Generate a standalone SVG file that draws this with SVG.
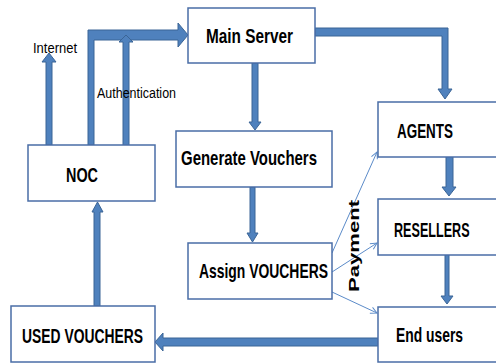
<svg xmlns="http://www.w3.org/2000/svg" width="496" height="363" viewBox="0 0 496 363">
<defs>
<style>
.box{fill:#fff;stroke:#4A6DA7;stroke-width:1.5}
.lbl{font-family:"Liberation Sans",Arial,sans-serif;font-weight:bold;font-size:21px;fill:#000}
.sm{font-family:"Liberation Sans",Arial,sans-serif;font-size:14px;fill:#000}
.blk{fill:#4F81BD;stroke:#3B6596;stroke-width:1;stroke-linejoin:miter}
.thin{fill:none;stroke:#5B8BC9;stroke-width:1;marker-end:url(#open)}
</style>
<marker id="open" viewBox="0 0 10 10" refX="9" refY="5" markerWidth="8" markerHeight="8" markerUnits="userSpaceOnUse" orient="auto">
<path d="M1,1 L9,5 L1,9" fill="none" stroke="#5B8BC9" stroke-width="1.2"/>
</marker>
</defs>
<rect width="496" height="363" fill="#fff"/>
<g id="connectors">
<polygon class="blk" points="46,145 46,62 42,62 49,53 56,62 52,62 52,145"/>
<polygon class="blk" points="88,145 88,30 178,30 178,23 188,35 178,47 178,40 94,40 94,145"/>
<polygon class="blk" points="123,147 123,42 119,42 126,35 133,42 129,42 129,147"/>
<polygon class="blk" points="315,28 448,28 448,89 452,89 445,99 438,89 442,89 442,36 315,36"/>
<polygon class="blk" points="252,63 252,122 249,122 255,130 261,122 258,122 258,63"/>
<polygon class="blk" points="250,187 250,233 247,233 252.5,242 258,233 255,233 255,187"/>
<polygon class="blk" points="446,153 446,187 442,187 449,196 456,187 453,187 453,153"/>
<polygon class="blk" points="445,250 445,296 441,296 447,304 453,296 449,296 449,250"/>
<polygon class="blk" points="378,338 163,338 163,333 155,342 163,351 163,346 378,346"/>
<polygon class="blk" points="94,306 94,212 92,212 97.5,202 103,212 100,212 100,306"/>
<line class="thin" x1="332" y1="253" x2="377" y2="152"/>
<line class="thin" x1="332" y1="272" x2="377" y2="243"/>
<line class="thin" x1="332" y1="292" x2="377" y2="313"/>
<text class="sm" x="33" y="53" textLength="44" lengthAdjust="spacingAndGlyphs">Internet</text>
<text class="sm" x="97" y="98" textLength="79" lengthAdjust="spacingAndGlyphs">Authentication</text>
<text class="lbl" style="font-size:15px" transform="translate(359,292) rotate(-90)" textLength="92" lengthAdjust="spacingAndGlyphs">Payment</text>
</g>
<g id="main-server">
<rect class="box" x="188" y="8" width="127" height="55"/>
<text class="lbl" x="206" y="43" textLength="87" lengthAdjust="spacingAndGlyphs">Main Server</text>
</g>
<g id="noc">
<rect class="box" x="28" y="145" width="127" height="56"/>
<text class="lbl" x="66" y="182" textLength="32" lengthAdjust="spacingAndGlyphs">NOC</text>
</g>
<g id="generate-vouchers">
<rect class="box" x="176" y="131" width="156" height="56"/>
<text class="lbl" x="181" y="165" textLength="136" lengthAdjust="spacingAndGlyphs">Generate Vouchers</text>
</g>
<g id="assign-vouchers">
<rect class="box" x="188" y="243" width="144" height="56"/>
<text class="lbl" x="199" y="278" textLength="129" lengthAdjust="spacingAndGlyphs">Assign VOUCHERS</text>
</g>
<g id="agents">
<rect class="box" x="378" y="102" width="119" height="55"/>
<text class="lbl" x="397" y="138" textLength="56" lengthAdjust="spacingAndGlyphs">AGENTS</text>
</g>
<g id="resellers">
<rect class="box" x="378" y="199" width="119" height="56"/>
<text class="lbl" transform="translate(394,237) scale(0.6,1)">RESELLERS</text>
</g>
<g id="end-users">
<rect class="box" x="378" y="307" width="119" height="55"/>
<text class="lbl" x="396" y="342" textLength="67" lengthAdjust="spacingAndGlyphs">End users</text>
</g>
<g id="used-vouchers">
<rect class="box" x="11" y="306" width="144" height="56"/>
<text class="lbl" x="22" y="343" textLength="121" lengthAdjust="spacingAndGlyphs">USED VOUCHERS</text>
</g>
</svg>
